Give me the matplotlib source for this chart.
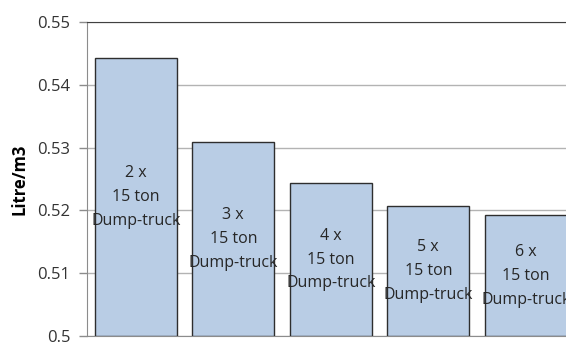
import matplotlib
matplotlib.use("Agg")
import matplotlib.pyplot as plt

# Fuel use per cubic metre for fleets of 15 ton dump-trucks
fleet_sizes = [2, 3, 4, 5, 6]
litre_per_m3 = [0.5443, 0.5309, 0.5243, 0.5207, 0.5192]
bar_labels = [f"{n} x\n15 ton\nDump-truck" for n in fleet_sizes]
y_ticks = [0.5, 0.51, 0.52, 0.53, 0.54, 0.55]
y_tick_labels = ["0.5", "0.51", "0.52", "0.53", "0.54", "0.55"]

plt.rcParams["font.family"] = ["Open Sans", "DejaVu Sans"]

fig = plt.figure(figsize=(5.66, 3.42), dpi=100)
fig.patch.set_facecolor("white")
ax = fig.add_axes([87 / 566, 6 / 342, 487.5 / 566, 314 / 342])

x = list(range(len(fleet_sizes)))
ax.bar(x, [v - 0.5 for v in litre_per_m3], bottom=0.5, width=0.84,
       color="#b9cde5", edgecolor="#2e2e2e", linewidth=1.0, zorder=3)

for xi, v, lab in zip(x, litre_per_m3, bar_labels):
    ax.text(xi, (v + 0.5) / 2, lab, ha="center", va="center",
            fontsize=11.5, color="#262626", linespacing=1.65, zorder=4)

ax.set_xlim(-0.5, len(fleet_sizes) - 0.5)
ax.set_ylim(0.5, 0.55)
ax.set_yticks(y_ticks)
ax.set_yticklabels(y_tick_labels, fontsize=12, color="#333333")
ax.set_xticks([])
ax.yaxis.grid(True, color="#b3b3b3", linewidth=1.0, zorder=0)
ax.tick_params(axis="y", length=6, width=1, color="#8c8c8c", pad=6)

ax.spines["left"].set_color("#8c8c8c")
ax.spines["top"].set_color("#404040")
ax.spines["bottom"].set_color("#8c8c8c")
ax.spines["right"].set_visible(False)

ax.set_ylabel("Litre/m3", fontsize=12, fontweight="bold", color="#000000", labelpad=6)

fig.savefig("out.png", dpi=100, facecolor="white")
